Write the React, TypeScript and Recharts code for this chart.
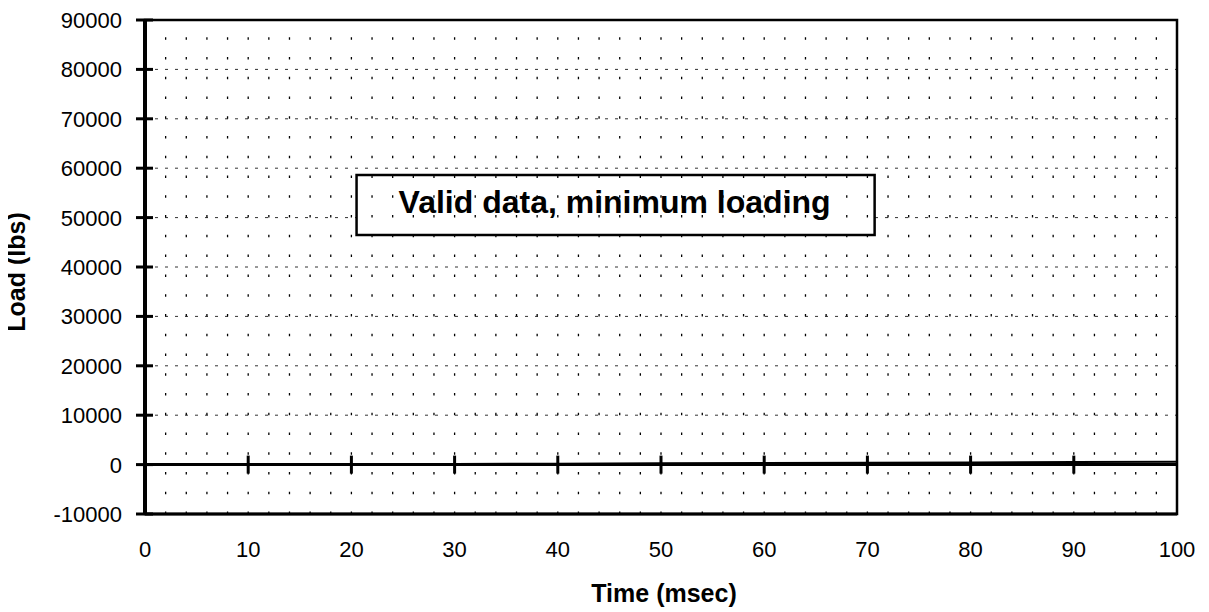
import React from 'react';
import {
  ComposedChart,
  Line,
  XAxis,
  YAxis,
  CartesianGrid,
  ReferenceLine,
  ReferenceArea,
  Scatter,
  Label,
} from 'recharts';

// ---- data ----
const timeMs = [0, 10, 20, 30, 40, 50, 60, 70, 80, 90, 100];
const loadLbs = [0, 20, 60, 120, 180, 250, 320, 380, 450, 520, 600];

const xTicks = [0, 10, 20, 30, 40, 50, 60, 70, 80, 90, 100];
const yTicks = [-10000, 0, 10000, 20000, 30000, 40000, 50000, 60000, 70000, 80000, 90000];
const minorX = [2, 4, 6, 8, 10, 12, 14, 16, 18, 20, 22, 24, 26, 28, 30, 32, 34, 36, 38, 40, 42, 44, 46, 48, 50, 52, 54, 56, 58, 60, 62, 64, 66, 68, 70, 72, 74, 76, 78, 80, 82, 84, 86, 88, 90, 92, 94, 96, 98];
const zeroAxisTicks = [10, 20, 30, 40, 50, 60, 70, 80, 90];

const annotationText = 'Valid data, minimum loading';
const annotationX = [20.5, 70.7];
const annotationY = [46500, 58600];

const xTitle = 'Time (msec)';
const yTitle = 'Load (lbs)';

const lineData = timeMs.map((t, i) => ({ t, load: loadLbs[i] }));
const zeroTickData = zeroAxisTicks.map((t) => ({ t, load: 0 }));

const FONT = '"Liberation Sans", Arial, Helvetica, sans-serif';

const YTick = (props: any) => {
  const { x, y, payload } = props;
  const axisX = x + 23;
  return (
    <g>
      <line x1={axisX - 9} x2={axisX + 8} y1={y} y2={y} stroke="#000" strokeWidth={3} />
      <text x={x} y={y} dy="0.36em" textAnchor="end" fontFamily={FONT} fontSize={22} fill="#000">
        {payload.value}
      </text>
    </g>
  );
};

const XTick = (props: any) => {
  const { x, y, payload } = props;
  return (
    <text x={x} y={y} dy="0.71em" textAnchor="middle" fontFamily={FONT} fontSize={22} fill="#000">
      {payload.value}
    </text>
  );
};

const ZeroTick = (props: any) => {
  const { cx, cy } = props;
  return <line x1={cx} x2={cx} y1={cy - 9} y2={cy + 9} stroke="#000" strokeWidth={3} />;
};

export default function App() {
  return (
    <div style={{ width: 1209, height: 612, background: '#fff', margin: '-8px 0 0 -8px' }}>
      <ComposedChart
        width={1209}
        height={612}
        data={lineData}
        margin={{ top: 20, right: 32, bottom: 0, left: 0 }}
      >
        <CartesianGrid
          vertical={false}
          stroke="#333"
          strokeWidth={1}
          strokeDasharray="3 7"
        />
        {minorX.map((v) => (
          <ReferenceLine
            key={'mx' + v}
            x={v}
            stroke="#000"
            strokeWidth={1.3}
            strokeDasharray="2.5 17.26"
          />
        ))}
        <XAxis
          dataKey="t"
          type="number"
          domain={[0, 100]}
          ticks={xTicks}
          interval={0}
          allowDataOverflow
          height={98}
          tickLine={false}
          tickSize={0}
          tickMargin={27}
          tick={<XTick />}
          axisLine={{ stroke: '#000', strokeWidth: 3 }}
        >
          <Label
            content={(p: any) => {
              const vb = p.viewBox || { x: 145, y: 514, width: 1032 };
              return (
                <text
                  x={vb.x + vb.width / 2 + 3}
                  y={vb.y + 88}
                  textAnchor="middle"
                  fontFamily={FONT}
                  fontSize={25}
                  fontWeight="bold"
                  fill="#000"
                >
                  {xTitle}
                </text>
              );
            }}
          />
        </XAxis>
        <YAxis
          type="number"
          domain={[-10000, 90000]}
          ticks={yTicks}
          interval={0}
          allowDataOverflow
          width={145}
          tickLine={false}
          tickSize={8}
          tickMargin={15}
          tick={<YTick />}
          axisLine={{ stroke: '#000', strokeWidth: 4 }}
        >
          <Label
            content={() => (
              <text
                x={25}
                y={272}
                transform="rotate(-90, 25, 272)"
                textAnchor="middle"
                fontFamily={FONT}
                fontSize={25}
                fontWeight="bold"
                fill="#000"
              >
                {yTitle}
              </text>
            )}
          />
        </YAxis>
        <ReferenceArea
          x1={0}
          x2={100}
          y1={-10000}
          y2={90000}
          fill="none"
          stroke="#000"
          strokeWidth={2.5}
        />
        <ReferenceLine y={0} stroke="#000" strokeWidth={3} />
        <Line
          dataKey="load"
          stroke="#000"
          strokeWidth={2}
          dot={false}
          isAnimationActive={false}
        />
        <Scatter
          data={zeroTickData}
          dataKey="load"
          shape={<ZeroTick />}
          isAnimationActive={false}
        />
        <ReferenceArea
          x1={annotationX[0]}
          x2={annotationX[1]}
          y1={annotationY[0]}
          y2={annotationY[1]}
          fill="#fff"
          fillOpacity={1}
          stroke="#000"
          strokeWidth={2.5}
        >
          <Label
            content={(p: any) => {
              const vb = p.viewBox || { x: 0, y: 0, width: 0, height: 0 };
              return (
                <text
                  x={vb.x + vb.width / 2 - 1}
                  y={vb.y + vb.height / 2 + 8}
                  textAnchor="middle"
                  fontFamily={FONT}
                  fontSize={32}
                  fontWeight="bold"
                  fill="#000"
                >
                  {annotationText}
                </text>
              );
            }}
          />
        </ReferenceArea>
      </ComposedChart>
    </div>
  );
}
